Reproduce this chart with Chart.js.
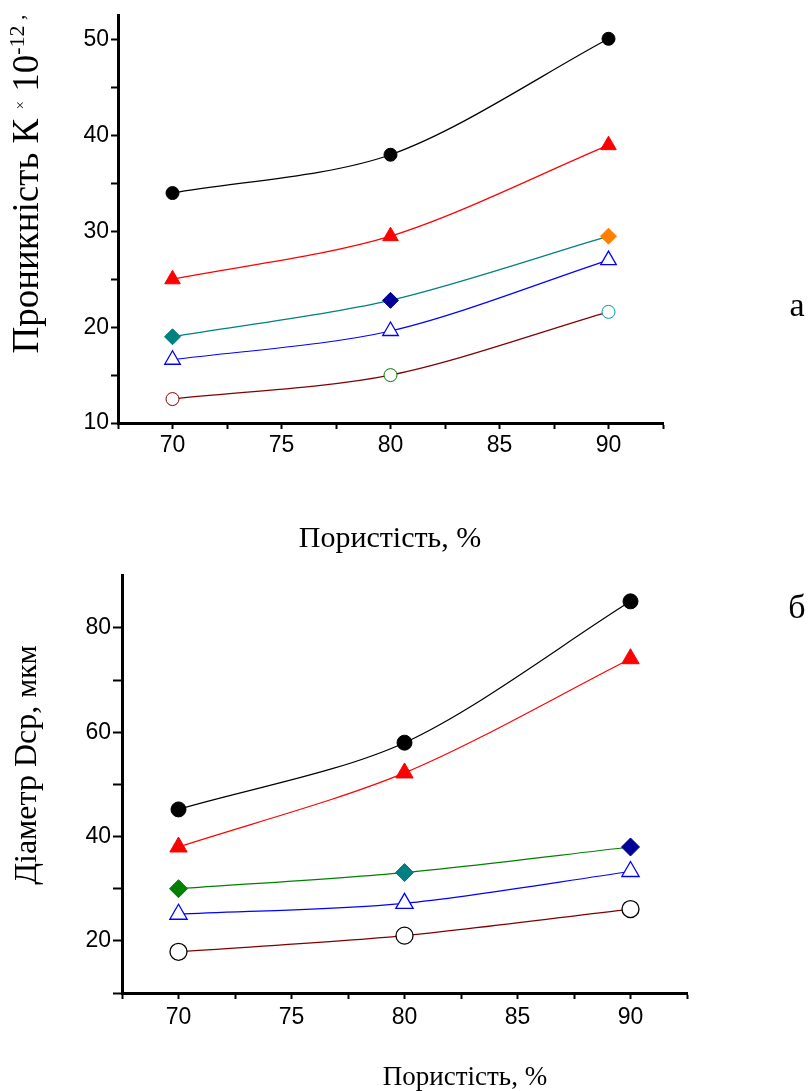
<!DOCTYPE html>
<html><head><meta charset="utf-8">
<script src="https://cdn.jsdelivr.net/npm/chart.js@4/dist/chart.umd.min.js"></script>
<style>
html,body{margin:0;padding:0;background:#fff;}
#wrap{position:relative;width:811px;height:1091px;overflow:hidden;}
.box{position:absolute;left:0;width:811px;}
</style></head><body>
<div id="wrap">
<div class="box" style="top:0;height:560px"><canvas id="c1" width="811" height="560"></canvas></div>
<div class="box" style="top:560px;height:531px"><canvas id="c2" width="811" height="531"></canvas></div>
</div>
<script>
// ---- data ----
const porosity = [70, 80, 90];
// panel а: permeability K ×10^-12
const permBlack = [34, 38, 50.1];
const permRed = [25, 29.5, 39];
const permDiamond = [19, 22.8, 29.5];
const permOpenTri = [16.6, 19.6, 27];
const permOpenCircle = [12.5, 15, 21.6];
// panel б: mean pore diameter, µm
const diamBlack = [45.2, 58, 85.1];
const diamRed = [38, 52.2, 74.1];
const diamDiamond = [30, 33.1, 38];
const diamOpenTri = [25.1, 27.2, 33.3];
const diamOpenCircle = [17.9, 21, 26.1];

// ---- texts ----
const xTitleText = 'Пористість, %';
const yTitleA = [
  {text: 'Проникність К ', size: 37},
  {text: '×', size: 15, rise: 13},
  {text: ' 10', size: 37},
  {text: '-12', size: 22, rise: 14},
  {text: ' ,', size: 22, rise: 14}
];
const yTitleB = [
  {text: 'Діаметр Dcp, ', size: 32},
  {text: 'мкм', size: 30}
];
const panelA = 'а';
const panelB = 'б';

const SERIF = '"Liberation Serif", "Times New Roman", serif';
const SANS = '"Liberation Sans", Arial, sans-serif';

const freeText = {
  id: 'freeText',
  afterDraw(chart, args, opts) {
    const ctx = chart.ctx;
    for (const item of opts.items) {
      ctx.save();
      ctx.translate(item.x, item.y);
      if (item.rotate) ctx.rotate(item.rotate);
      let total = 0;
      const ws = [];
      for (const seg of item.segs) {
        ctx.font = seg.size + 'px ' + SERIF;
        const w = ctx.measureText(seg.text).width;
        ws.push(w); total += w;
      }
      let cx = -total / 2;
      ctx.textBaseline = 'alphabetic';
      ctx.textAlign = 'left';
      ctx.fillStyle = '#000';
      item.segs.forEach((seg, i) => {
        ctx.font = seg.size + 'px ' + SERIF;
        ctx.fillText(seg.text, cx, -(seg.rise || 0));
        cx += ws[i];
      });
      ctx.restore();
    }
  }
};

function pts(vals) { return porosity.map((x, i) => ({x: x, y: vals[i]})); }

function ds(vals, line, style, radius, fill, stroke, bw) {
  return {
    data: pts(vals),
    showLine: true,
    borderColor: line,
    borderWidth: 1.2,
    tension: 0.3,
    pointStyle: style,
    pointRadius: radius,
    pointBackgroundColor: fill,
    pointBorderColor: stroke,
    pointBorderWidth: bw,
    clip: false
  };
}

function axisX(h, tl, pad) {
  return {
    type: 'linear', min: 67.5, max: 92.5,
    afterFit: s => { s.height = h; },
    ticks: {stepSize: 2.5, autoSkip: false, maxRotation: 0, padding: pad, color: '#000',
      font: {family: SANS, size: 23},
      callback: v => (Math.abs(v % 5) < 1e-6 ? String(v) : '')},
    grid: {display: true, drawOnChartArea: false, drawTicks: true, tickLength: tl, tickWidth: 2, tickColor: '#000'},
    border: {display: true, color: '#000', width: 3}
  };
}
function axisY(w, min, max, step, labelEvery, topTick, tl) {
  return {
    type: 'linear', min: min, max: max,
    afterFit: s => { s.width = w; },
    afterBuildTicks: s => {
      const t = [];
      for (let v = min; v <= topTick + 1e-6; v += step) t.push({value: v});
      s.ticks = t;
    },
    ticks: {stepSize: step, autoSkip: false, padding: 2, color: '#000',
      font: {family: SANS, size: 23},
      callback: v => (Math.abs(v % labelEvery) < 1e-6 ? String(v) : '')},
    grid: {display: true, drawOnChartArea: false, drawTicks: true, tickLength: tl, tickWidth: 2, tickColor: '#000'},
    border: {display: true, color: '#000', width: 3}
  };
}

new Chart(document.getElementById('c1'), {
  type: 'scatter',
  data: {datasets: [
    ds(permBlack, '#000000', 'circle', 6.5, '#000000', '#000000', 1),
    ds(permRed, '#FF0000', 'triangle', 9, '#FF0000', '#FF0000', 1),
    ds(permDiamond, '#008080', 'rectRot', 8, ['#008080', '#000099', '#FF8000'], ['#008080', '#000099', '#FF8000'], 1),
    ds(permOpenTri, '#0000FF', 'triangle', 9, '#FFFFFF', '#0000FF', 1.3),
    ds(permOpenCircle, '#800000', 'circle', 6.5, '#FFFFFF', ['#8B0000', '#008000', '#009999'], 1)
  ]},
  options: {
    responsive: false, animation: false,
    layout: {padding: {left: 0, top: 14, right: 148, bottom: 0}},
    plugins: {legend: {display: false}, tooltip: {enabled: false},
      freeText: {items: [
        {x: 390, y: 547, segs: [{text: xTitleText, size: 30}]},
        {x: 38, y: 184, rotate: -Math.PI / 2, segs: yTitleA},
        {x: 797, y: 316, segs: [{text: panelA, size: 34}]}
      ]}},
    scales: {
      x: axisX(137, 6, 3),
      y: axisY(118, 10, 52.5, 5, 10, 50, 7)
    }
  },
  plugins: [freeText]
});

new Chart(document.getElementById('c2'), {
  type: 'scatter',
  data: {datasets: [
    ds(diamBlack, '#000000', 'circle', 7.5, '#000000', '#000000', 1),
    ds(diamRed, '#FF0000', 'triangle', 10, '#FF0000', '#FF0000', 1),
    ds(diamDiamond, '#008000', 'rectRot', 9, ['#008000', '#008080', '#000099'], ['#008000', '#008080', '#000099'], 1),
    ds(diamOpenTri, '#0000FF', 'triangle', 10, '#FFFFFF', '#0000FF', 1.3),
    ds(diamOpenCircle, '#800000', 'circle', 8.5, '#FFFFFF', '#000000', 1.3)
  ]},
  options: {
    responsive: false, animation: false,
    layout: {padding: {left: 0, top: 10, right: 124, bottom: 0}},
    plugins: {legend: {display: false}, tooltip: {enabled: false},
      freeText: {items: [
        {x: 465, y: 525, segs: [{text: xTitleText, size: 27}]},
        {x: 36, y: 205, rotate: -Math.PI / 2, segs: yTitleB},
        {x: 797, y: 58, segs: [{text: panelB, size: 34}]}
      ]}},
    scales: {
      x: axisX(98, 6, 5),
      y: axisY(122, 10, 90, 10, 20, 80, 9)
    }
  },
  plugins: [freeText]
});
</script>
</body></html>
